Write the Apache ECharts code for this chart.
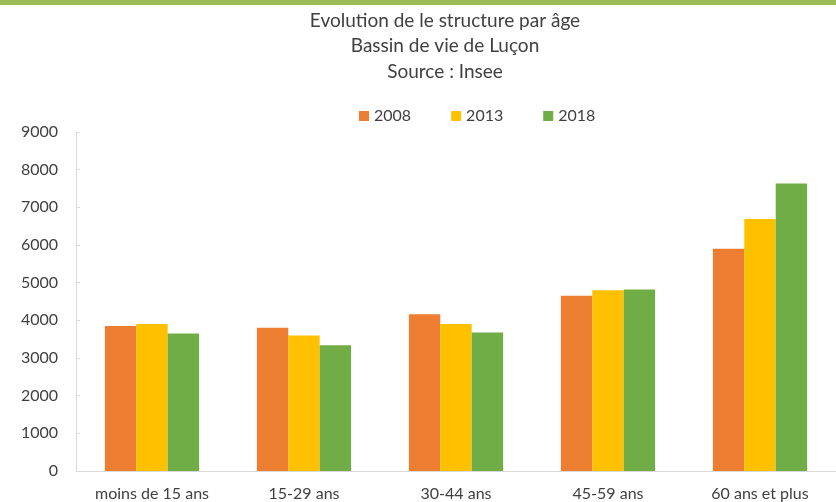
<!DOCTYPE html>
<html>
<head>
<meta charset="utf-8">
<script src="https://cdn.jsdelivr.net/npm/echarts@6/dist/echarts.min.js"></script>
<style>
  html, body { margin: 0; padding: 0; background: #fff; }
  #chart { width: 836px; height: 502px; border-top: 5px solid #9BBB59; box-sizing: border-box; }
</style>
</head>
<body>
<div id="chart"></div>
<script>
// données
const categories = ['moins de 15 ans', '15-29 ans', '30-44 ans', '45-59 ans', '60 ans et plus']
const years = ['2008', '2013', '2018']
const values2008 = [3850, 3800, 4160, 4650, 5900]
const values2013 = [3900, 3600, 3900, 4800, 6690]
const values2018 = [3650, 3340, 3680, 4820, 7630]
const colors = ['#ED7D31', '#FFC000', '#70AD47']

const font = 'Lato, "Open Sans", sans-serif'
const chart = echarts.init(document.getElementById('chart'))

const seriesData = [values2008, values2013, values2018]

chart.setOption({
  animation: false,
  textStyle: { fontFamily: font },
  title: {
    text: 'Evolution de le structure par âge\nBassin de vie de Luçon\nSource : Insee',
    left: 440,
    top: -2,
    textAlign: 'center',
    textStyle: { fontSize: 19, fontWeight: 'normal', color: '#404040', lineHeight: 25.5, fontFamily: font }
  },
  legend: {
    data: years,
    top: 98,
    left: 354,
    itemWidth: 10,
    itemHeight: 10,
    itemGap: 40,
    icon: 'rect',
    textStyle: { fontSize: 16, color: '#404040', fontFamily: font }
  },
  grid: { left: 76, right: 0, top: 127, bottom: 31 },
  xAxis: {
    type: 'category',
    data: categories,
    axisLine: { lineStyle: { color: '#D9D9D9', width: 1 } },
    axisTick: { show: false },
    axisLabel: { color: '#404040', fontSize: 16, margin: 15, fontFamily: font }
  },
  yAxis: {
    type: 'value',
    min: 0,
    max: 9000,
    interval: 1000,
    splitLine: { show: false },
    axisLine: { show: true, lineStyle: { color: '#D9D9D9' } },
    axisTick: { show: true, inside: true, length: 4, lineStyle: { color: '#D9D9D9' } },
    axisLabel: { color: '#404040', fontSize: 16, margin: 18, fontFamily: font, formatter: v => String(v) }
  },
  series: years.map((y, i) => ({
    name: y,
    type: 'bar',
    data: seriesData[i],
    barGap: '0%',
    barCategoryGap: '38%',
    itemStyle: { color: colors[i] }
  }))
})
</script>
</body>
</html>
